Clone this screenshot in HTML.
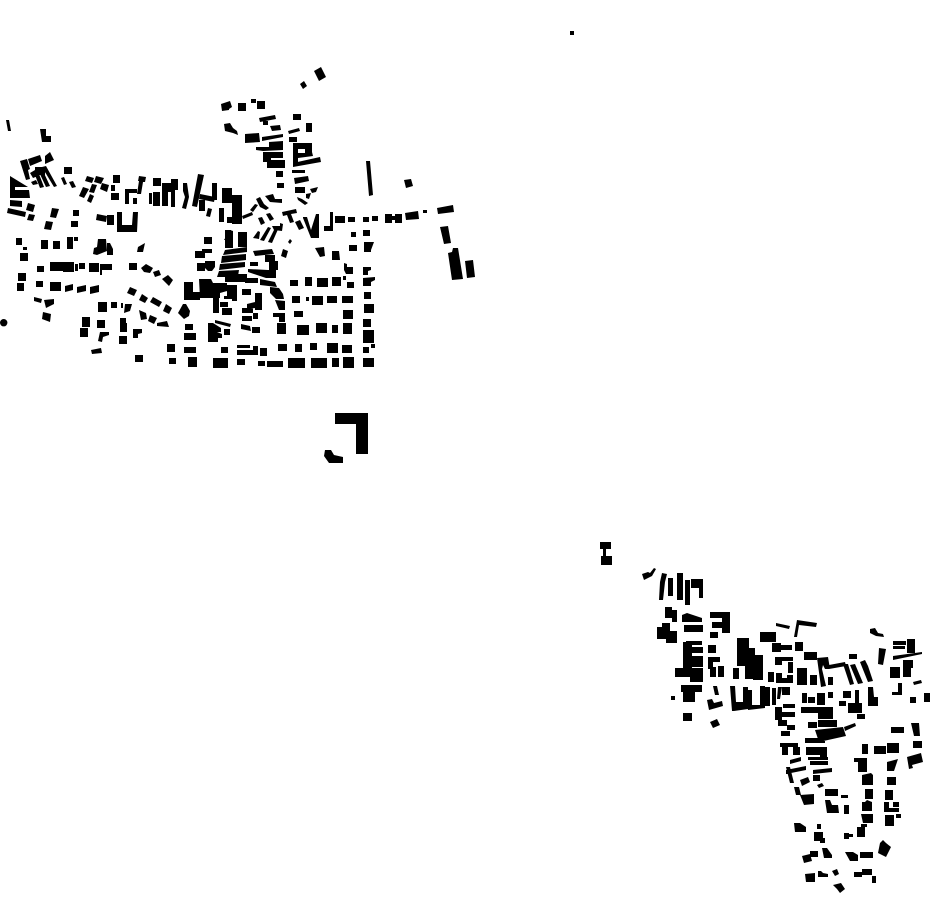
<!DOCTYPE html>
<html><head><meta charset="utf-8"><style>html,body{margin:0;padding:0;background:#fff}svg{display:block}</style></head>
<body><svg width="930" height="924" viewBox="0 0 930 924" xmlns="http://www.w3.org/2000/svg">
<rect width="930" height="924" fill="#fff"/>
<circle cx="3.7" cy="322.7" r="3.7"/>
<path fill="#000" d="
M570 31h4v4h-4z
M314 71l7-4l5 10l-7 4z M300 84l4-3l3 5l-4 3z
M6 120l3 0l2 11l-3 0z M40 129h6v7h5v6h-9z
M20 161l7-2l3 10l-2 1l2 9l-4 1z M28 159l12-4l2 6l-12 5z M45 156l5-4l4 8l-9 4z
M10 176l18 11h-13v3h14l1 8h-20z M10 200l12 1v6l-12-1z M8 208l18 4l-1 5l-18-4z M28 203l7 2l-2 7l-7-2z M29 214l6 1l-2 6l-6-1z
M52 208l7 1l-3 9l-6-1z M46 221l7 1l-2 8l-7-1z M73 210h6v6h-6z M71 221h7v6h-7z M97 214l10 2l-1 6l-10-2z M107 215h7v10h-7z
M117 212h5v13h10l1-13h5l-1 20h-20z
M35 167h10v8h-10z M42 167l4-1l11 20l-3 1z M39 172l4-1l7 15l-4 1z M35 175l4-1l5 13l-4 1z M30 173l5-3l3 6l-5 2z M31 182l5-2l2 4l-5 1z
M64 167h8v7h-8z M61 178l3-1l3 7l-3 1z M69 182l4-1l3 6l-4 1z
M87 176l7 2l-2 5l-7-2z M96 176l8 2l-3 6l-7-2z M92 184l5 1l-3 8l-5-1z M83 187l6 2l-5 9l-5-2z M90 194l4 2l-3 7l-4-2z M102 183l7 2l-2 7l-7-3z M111 185h4v6h-4z M113 175h7v8h-7z M111 193h8v7h-8z
M125 189h12v4h-8v11h-4z M133 198h4v6h-4z M139 176l7 1l-1 5l-2 0l-2 12l-4 0l2-13l-1 0z M153 178h8v8h-8z M162 183h9v9h-9z M149 193h3v11h-3z M153 192h7v14h-7z M162 192h6v14h-6z M171 179h7v11h-7z M171 190h4v17h-4z
M183 183h4l2 14l-3 12l-4-1l3-11l-2-6z M198 174l6 1l-7 32l-5-1z M200 194l15 3l-1 5l-15-3z M199 200h6v11h-6z M208 208l4 1l-2 8l-4-1z M212 183h5v17h-5z
M222 188h10v15h-10z M232 195h10v29h-10z M219 208h5v14h-5z M227 217h5v6h-5z
M221 104l9-3l2 6l-3 2v1l-7 1z M238 103h8v8h-8z M251 99h5v4h-5z M257 101h8v8h-8z M224 124l6-1l3 5l4 3l1 4l-5-2l-8-2z M245 134l14-1l1 9l-15 1z
M259 118l16-3l1 4l-16 3z M263 118h5v7h-5z M270 126l10-1l1 5l-9 1z M293 114h8v6h-8z M306 123h6v9h-6z M288 131l11-3l1 3l-11 3z M289 137h8v5h-8z
M262 137l21-3v3l-21 4z M269 142l14-1v5l-14 1z M256 147l27-1v4l-20 1l-7-1z M263 152h20v6h-20z M263 158h8v4h-8z M267 160h18v8h-18z M276 171h7v6h-7z M277 183h7v5h-7z
M293 143h18v6h-18z M293 143h5v22h-5z M305 143h7v13h-7z M298 153l14-1l1 4l-15 2z M293 163l27-6l1 5l-28 5z M292 170h13v3h-13z M294 178l14-2l1 5l-14 3z M295 187h10v6h-10z M310 189l8-2l-2 5l-4 1z M306 194l5-1l-2 6l-3-1z M297 197l5 2l6 4l-3 2l-7-5z
M366 161l4 0l3 34l-4 1z M404 180l7-1l2 7l-7 2z M437 208l16-3l1 7l-16 2z M423 210h4v3h-4z M405 213l13-2l1 8l-13 1z M385 214h7v9h-7z M392 216h3v4h-3z M395 214h7v9h-7z M372 216h6v5h-6z M363 217h6v5h-6z M348 217h7v5h-7z M335 216h10v7h-10z M330 212h3v19h-9v-5h6z
M351 232h5v5h-5z M363 230h7v6h-7z M349 245h8v6h-8z M364 242h10l-3 8v2h-7z M440 227l8-1l3 17l-7 1z M448 253l4-1l1-4l5 0l5 31l-11 1z M465 261l8-1l2 17l-8 1z
M315 248l9-1l1 9l-5 1z M332 251h7l1 9h-8z M283 249l5 2l-2 7l-5-2z M344 263l3 1v3h6v7h-7l-2-4z M363 267h8v3l-3 1v4h-5z M350 282h4v6h-4z
M290 280h8v6h-8z M305 277h7v9h-7z M317 278h11v9h-11z M332 277h9v9h-9z M343 276h3v4h-3z M347 282h7v6h-7z M363 278l12-1v3l-4 2v4h-8z
M364 292h7v7h-7z M292 296h8v7h-8z M306 297h3v4h-3z M312 296h11v9h-11z M327 296h10v7h-10z M342 296h11v7h-11z M364 304h10v9h-10z M294 311h9v6h-9z M343 310h10v9h-10z
M363 319h8v8h-8z M297 325h12v10h-12z M316 323h11v10h-11z M332 325h6v8h-6z M343 323h9v11h-9z M277 323h9v11h-9z M363 330h11v13h-11z
M278 344h9v7h-9z M295 344h7v8h-7z M310 343h7v7h-7z M327 343h11v10h-11z M342 345h10v8h-10z M363 347h6v6h-6z M371 344h4v4h-4z
M363 358h11v9h-11z M343 357h11v11h-11z M332 358h7v9h-7z M311 358h16v10h-16z M288 358h17v10h-17z M267 361h16v6h-16z M258 361h7v5h-7z M237 359h8v6h-8z M213 358h15v10h-15z M188 357h9v10h-9z
M221 347h7v6h-7z M184 347h12v6h-12z M237 345h13v3h-13z M237 350h16v5h-16z M253 346h5v9h-5z M260 348h7v8h-7z M184 333h12v7h-12z M185 324h8v6h-8z
M208 323h5l8 5v4h-4l5 2v4h-4v4h-10z M215 320l16 4l-1 3l-15-4z M224 329h6v6h-6z M241 324l9 2l1 5l-10-2z M252 327h8v6h-8z M242 316h10v5h-10z M242 308h11v5h-11z M247 304l8-2v6l-8 1z M253 313h5v6h-5z M255 293h7v17h-7z M242 289h9v6h-9z
M275 300l10 1v9h-6z M273 313h12v9h-6v-5h-6z
M184 282h9v10h7v8h-16z M199 279h12l2 4h14v8l-7 2v5h-20z M227 285h10v13h-10z M213 296h6v17h-6z M220 302h8v5h-8z M222 308h10v7h-10z M232 295h5v6h-5z M224 296h8v3h-8z
M183 304h3l4 7l-1 5l-5 3l-6-6z
M204 237h8v7h-8z M225 230h6l2 5v13h-8z M238 232h9v15h-9z M195 251h10v7h-10z M202 249h10v4h-10z M197 263h8v8h-8z M205 261h10v6l-3 4h-4l-3-3z
M225 250l22-3v5l-24 3z M222 256l24-2v6l-25 3z M220 264l25-2v5l-26 3z M219 271l20-1l-1 6l-21 1z M225 276h10v6h-10z M235 274h12v8h-12z
M253 251l19-2l2 5l-19 2z M269 261h9v9h-9z M265 255h10v7h-10z M250 262h8v4h-8z M248 269l20 1h8v8h-10l-18-6z M245 278h13v5h-13z M260 279l15 3l2 5l-17-2z M270 287l9 1l4 6l1 5h-8l-6-6z
M224 240l6-10l3 1v9z M253 238l5-7l2 1l-1 7z M260 240l8-13l3 1l-7 13z M268 242l8-16l3 1l-7 16z M272 226h8v-3l3 1l-1 7l-8-1z M258 218l4-1l3 6l-4 2z M266 214l4-1l4 6l-4 2z
M242 216l10-4l1 3l-10 4z M250 210l5-6l3 1l-5 7z M256 199l4-2l4 7l5 4l-3 2l-6-3z M265 196l8-2l2 5h7v4l-12-1z
M282 212l14-3l1 4l-6 1l3 8l-4 1l-3-8l-4 1z M295 222l5-2l4 8l-5 2z M303 217l4 0l4 13l5-16l3 0v24h-8l-8-20z M288 242l2-3l2 2l-2 3z
M16 238h6v7h-6z M41 240h7v9h-7z M53 241h7v8h-7z M67 237h6v12h-6z M74 237h4v4h-4z M23 247h4v3h-4z M20 253h8v8h-8z
M98 239h8l1 12l-10 4l-4-1l1-6l3-1z M107 243h3l3 6v6h-6z M138 247l7-4l-2 9h-6z
M37 266h7v6h-7z M50 262h13v9h-13z M63 262h11v10h-11z M75 264h3v7h-3z M79 263h6v6h-6z M89 263h10v9h-10z M100 264h12v6h-12z M100 270h2v5h-2z
M129 263h8v7h-8z M141 268l5-4l7 4l-3 5l-6-1z M153 272l6-2l2 5l-6 2z M162 279l6-4l5 5l-4 6z
M18 273h8v8h-8z M17 283h7v8h-7z M36 281h7v6h-7z M50 282h11v9h-11z M65 286l8-2v6l-8 2z M77 287l9-2v6l-9 2z M90 287l9-2v7l-9 2z
M34 297l8 2l-1 4l-7-2z M44 300l10-1v5l-8 4z M43 312l8 2l-1 8l-8-3z
M130 287l7 3l-3 6l-7-3z M142 294l6 4l-3 5l-6-3z M153 297l9 5l-3 5l-9-5z M166 304l6 4l-3 6l-6-3z
M98 302h9v10h-9z M111 302h6v6h-6z M121 303h2v5h-2z M125 304h7l-2 7l-6 2z M139 310l7 3l1 6l-6 1z M150 315l7 3l-3 6l-6-3z M157 323l10-2l2 6l-12-1z
M82 317h8v10h-8z M97 320h8v8h-8z M80 328h8v9h-8z M100 332h9v3l-6 2l-1 5l-4-1z M91 350l10-2l1 5l-10 1z M120 318h6v5h-6z M120 323h7v9h-7z M119 336h8v8h-8z M133 329h9v4l-4 1v4h-5z M135 355h8v7h-8z M167 344h8v8h-8z M169 358h7v6h-7z
M335 413h33v41h-12v-30h-21z M325 450h6l3 5l9 2v6h-14l-5-7z

M600 542h11v7h-5v7h6v9h-11v-9h2v-7h-3z M642 574l6-2l2 1l4-5l2 1l-4 7l-8 4z
M662 573l5 1l-2 8l-2 18h-4l1-18z M668 578h5v18h-5z M677 573h6v27h-6z M685 580h5v25h-5z M691 579h12v9h-12z M699 588h4v10h-4z
M665 607h7v11h-7z M672 610h5v12h-5z M662 623h8v8h7v12h-11v-4h-9v-12h5z
M682 615l5-2l15 5v4h-20z M684 625h19v7h-19z M710 612h20v6h-20z M712 622h10v6h-10z M710 632h8v6h-8z M722 612h8v21h-8z M708 645h8v8h-8z M708 657h12v5h-7v7h-5z M710 667h6v10h-6z M718 666h6v11h-6z
M686 641h16v4h-16z M690 647h13v6h-13z M683 642h9v26h-9z M683 656h20v11h-20z M675 668h17v9h-17z M690 668h13v14h-13z M681 685h21v7h-21z M683 690h12v12h-12z M671 696h4v4h-4z M683 713h9v8h-9z
M713 686h4l2 9h-4z M707 700l5-1l2 4l8-2l1 5l-14 4z M710 722l7-3l3 6l-7 3z
M737 638h12v28h-12z M745 648h10v31h-10z M753 655h10v25h-10z M733 668h6v11h-6z M760 632h10v10h-10z
M730 686h5l1 16h7v-15h5v22l-14 2h-2z M748 690h4v15h8v-19h5v22l-17 2z M760 687h10v19h-10z M772 688h4v17h-4z M778 687h4l-2 12h-3z
M760 632h16v10h-16z M776 623l14 3l-1 3l-13-3z M797 620l20 3l-1 4l-17-2l-2 12h-3z M772 643h9v9h-9z M781 645h11v5h-11z M795 642h8v9h-8z M804 652h13v8h-13z
M775 657h18v4h-18z M775 661h7v4h-7z M788 662h5v11h-5z M768 672h6v10h-6z M776 673h6v10h-6z M782 678h5v5h-5z M787 675h6v8h-6z M797 668h10v17h-10z M810 675h7v10h-7z
M817 658l11-1l2 12h-5l-2-4l-1 4l4 17l-5 1z M828 677h5v8h-5z M829 665l16-3l1 4l-17 3z M843 664h5l6 20l-4 1z M850 665l5-1l8 19l-5 1z M849 654h8v5h-8z M860 662l5-2l3 6l5 15l-5 1z
M870 629l5-1l3 5l5 1l1 3l-8-1l-6-3z M879 648l7 1l-3 16l-5-1z M893 641h13v4h-13z M893 646h12v3h-12z M907 639h8v14h-8z M893 656l29-4v2l-29 6z M903 660h10v8h-10z M890 667h10v11h-10z M903 668h8v9h-8z M898 683h4v12h-10v-3h6z M913 682l8-2l1 3l-8 2z M910 697h6v6h-6z M924 693h6v9h-6z M868 687h5l1 10h4v9h-10z
M802 693h5v10h-5z M808 697h7v6h-7z M817 693h8v12h-8z M828 692h5v6h-5z M843 691h8v7h-8z M839 701h7v5h-7z M848 703h14v10h-14z M855 690h4v13h-4z M857 714h8v5h-8z
M801 707h32v6h-32z M818 710h15v9h-15z M818 720h19v7h-19z M808 722h9v6h-9z M844 727l11-4l1 3l-11 5z M815 730l28-3l3 9l-27 6z M805 738h20v5h-20z M806 747h21v8h-21z
M782 687h8v8h-8z M783 704h12v4h-12z M780 712h15v5h-15z M775 707h7v13h-7z M778 720h9v6h-9z M787 725h8v5h-8z M781 731h9v5h-9z M780 743h18v4h-18z M782 747h6v8h-6z M793 747h7v8h-7z
M891 727h13v6h-13z M911 723h8l1 13h-6z M913 741h9v7h-9z M862 744h6v10h-6z M874 746h12v8h-12z M887 743h12v10h-12z
M790 760l11-3v4l-11 3z M786 770l20-4v4l-20 4z M786 767h4l4 16h-4z M800 780l8-3l2 5l-8 4z M794 787h5l2 8h-5z M800 795l14-1v10l-10 1z
M808 757h20v3h-20z M810 761h18v4h-18z M820 750h7v7h-7z M813 770l19-2v4l-19 2z M813 775h7v6h-7z M817 785l5-2l2 3l-5 2z M825 789h13v7h-13z M825 800h5l2 5h6l1 8h-12z M844 805h5v9h-5z M841 795h7v3h-7z
M854 758h13v4h-13z M858 762h9v10h-9z M862 775l9-2l2 2v10h-11z M865 789h8v10h-8z M862 802h3l2-2l5 2v9h-10z M861 814h7l5 0v9h-10z M861 824h6v3h-6z M857 827h8v10h-8z M844 833h5v6h-5z M849 834h4v3h-4z
M887 762l11-3l-4 12h-7z M887 777h9v8h-9z M885 790h8v10h-8z M884 802h5v6h10v4h-15z M885 815h9v11h-9z M896 814h5v4h-5z M893 802h6v5h-6z
M907 757l14-4l2 9l-11 3l1 3l-4 1z M880 843l3-3l3 3l5 4l-5 10l-8-4z
M794 823h6l6 4v5h-11z M817 824h4v5h-4z M814 832h9v9h-9z M820 838h5v5h-5z
M802 856l8-2l2 7l-8 2z M810 851h8v6h-8z M822 848h5l5 7v3h-8z M845 852h8l5 3v6h-8z M860 852h13v6h-13z
M805 874l10-1v9h-9z M818 871h3l2 2l5 1v3h-10z M832 871l5-2l2 5l-4 2z M833 885l8-2l4 6l-5 4l-3-4z M854 872h8v5h-8z M862 869h10v6h-10z M872 876h4v7h-4z
"/>
</svg></body></html>
